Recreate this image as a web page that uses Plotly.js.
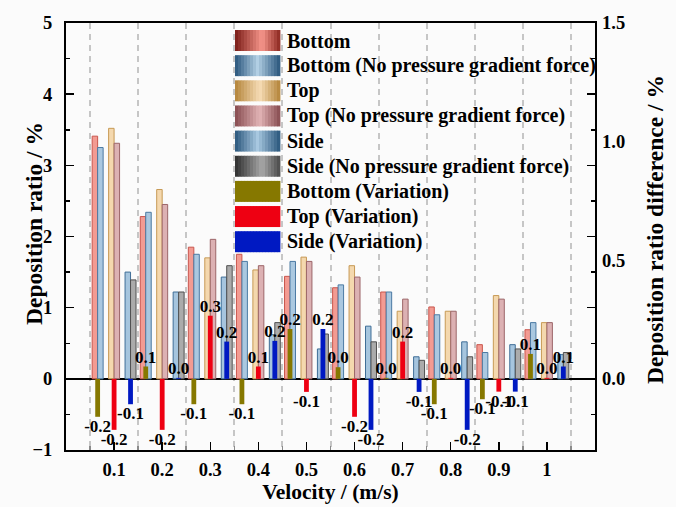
<!DOCTYPE html>
<html>
<head>
<meta charset="utf-8">
<script src="https://cdn.plot.ly/plotly-3.0.1.min.js"></script>
<style>html,body{margin:0;padding:0;background:#fbfbfb;}</style>
</head>
<body>
<div id="chart" style="width:676px;height:507px;"></div>
<script>
// Flow velocity categories (m/s)
const categories = ['0.1', '0.2', '0.3', '0.4', '0.5', '0.6', '0.7', '0.8', '0.9', '1'];

// Deposition ratio (%) on each wall, with and without the pressure gradient force
const bottom        = [3.41, 2.28, 1.85, 1.75, 1.44, 1.28, 1.22, 1.01, 0.48, 0.69];
const bottomNoPGF   = [3.25, 2.34, 1.75, 1.65, 1.65, 1.32, 1.22, 0.90, 0.37, 0.79];
const topWall       = [3.52, 2.66, 1.70, 1.53, 1.71, 1.59, 0.95, 0.95, 1.17, 0.79];
const topWallNoPGF  = [3.31, 2.45, 1.96, 1.59, 1.65, 1.43, 1.12, 0.95, 1.12, 0.79];
const side          = [1.50, 1.22, 1.43, 0.62, 0.42, 0.74, 0.31, 0.52, 0.48, 0.34];
const sideNoPGF     = [1.39, 1.22, 1.59, 0.79, 0.63, 0.52, 0.26, 0.31, 0.42, 0.37];

// Deposition ratio difference (%) caused by the pressure gradient force
const bottomVar = [-0.16, 0.052, -0.107, -0.107, 0.21, 0.049, 0.004, -0.107, -0.086, 0.105];
const topVar    = [-0.215, -0.215, 0.266, 0.052, -0.055, -0.16, 0.157, 0.004, -0.054, 0.004];
const sideVar   = [-0.107, 0.004, 0.157, 0.16, 0.21, -0.215, -0.055, -0.215, -0.054, 0.052];

const seriesNames = [
  'Bottom', 'Bottom (No pressure gradient force)', 'Top', 'Top (No pressure gradient force)',
  'Side', 'Side (No pressure gradient force)', 'Bottom (Variation)', 'Top (Variation)', 'Side (Variation)'
];

const FONT = 'Liberation Serif, Times New Roman, serif';
const xIndex = categories.map((_, i) => i);
const boundaries = categories.map((_, i) => i - 0.5).concat([categories.length - 0.5]);

// bar styling: fill + darker edge to give a shaded look
const BAR_W = 0.114, VAR_W = 0.1;
const ratioSeries = [
  {name: seriesNames[0], y: bottom,       offset: -0.456, fill: '#f39b92', edge: '#c9564d'},
  {name: seriesNames[1], y: bottomNoPGF,  offset: -0.342, fill: '#aac8e0', edge: '#4b7aa3'},
  {name: seriesNames[2], y: topWall,      offset: -0.114, fill: '#f4d8ae', edge: '#c79a55'},
  {name: seriesNames[3], y: topWallNoPGF, offset:  0.000, fill: '#dcb1b3', edge: '#9c6669'},
  {name: seriesNames[4], y: side,         offset:  0.228, fill: '#a6c5de', edge: '#3f6e97'},
  {name: seriesNames[5], y: sideNoPGF,    offset:  0.342, fill: '#ababab', edge: '#505050'}
];
const varSeries = [
  {name: seriesNames[6], y: bottomVar, offset: -0.342 - VAR_W / 2, color: '#867800'},
  {name: seriesNames[7], y: topVar,    offset: -VAR_W / 2,         color: '#ee0012'},
  {name: seriesNames[8], y: sideVar,   offset:  0.342 - VAR_W / 2, color: '#0019c2'}
];

const traces = [];
ratioSeries.forEach(s => traces.push({
  type: 'bar', name: s.name, x: xIndex, y: s.y,
  offset: s.offset, width: BAR_W,
  marker: {color: s.fill, line: {color: s.edge, width: 1}},
  showlegend: false, hoverinfo: 'skip'
}));
varSeries.forEach(s => traces.push({
  type: 'bar', name: s.name, x: xIndex, y: s.y, yaxis: 'y2',
  offset: s.offset, width: VAR_W,
  marker: {color: s.color, line: {width: 0}},
  texttemplate: '%{y:.1f}', textposition: 'outside', constraintext: 'none', cliponaxis: false,
  textfont: {family: FONT, size: 17, color: '#000', weight: 'bold'},
  showlegend: false, hoverinfo: 'skip'
}));

// ---- hand-built legend with shaded swatches ----
const PLOT = {l: 66, r: 595, t: 23, b: 450};
const px2x = p => (p - PLOT.l) / (PLOT.r - PLOT.l);
const py2y = p => (PLOT.b - p) / (PLOT.b - PLOT.t);
const hex = h => [1, 3, 5].map(i => parseInt(h.substr(i, 2), 16));
const mix = (a, b, t) => a.map((v, i) => Math.round(v + (b[i] - v) * t));
const swatchGradients = [
  {stops: ['#7a1c16', '#f7968c', '#8c2820'], peak: 0.6},
  {stops: ['#2a567c', '#b2cfe4', '#2a567c'], peak: 0.5},
  {stops: ['#b4853a', '#f6dcb6', '#b4853a'], peak: 0.55},
  {stops: ['#874c50', '#e2b4b6', '#874c50'], peak: 0.55},
  {stops: ['#2a567c', '#a8c8e0', '#2a567c'], peak: 0.5},
  {stops: ['#2e2e2e', '#a8a8a8', '#4a4a4a'], peak: 0.6},
  {stops: ['#867800', '#867800', '#867800'], peak: 0.5},
  {stops: ['#ee0012', '#ee0012', '#ee0012'], peak: 0.5},
  {stops: ['#0019c2', '#0019c2', '#0019c2'], peak: 0.5}
];
const shapes = [];
const annotations = [];
const SW_X0 = 235, SW_X1 = 280, ROW0 = 40.5, ROW_H = 25.15, SW_H = 21, STRIPES = 15;
seriesNames.forEach((name, k) => {
  const cy = ROW0 + k * ROW_H;
  const g = swatchGradients[k];
  const c = g.stops.map(hex);
  for (let j = 0; j < STRIPES; j++) {
    const t = (j + 0.5) / STRIPES;
    const col = t < g.peak ? mix(c[0], c[1], t / g.peak) : mix(c[1], c[2], (t - g.peak) / (1 - g.peak));
    const sx0 = SW_X0 + (SW_X1 - SW_X0) * j / STRIPES;
    const sx1 = SW_X0 + (SW_X1 - SW_X0) * (j + 1) / STRIPES + 0.4;
    shapes.push({type: 'rect', xref: 'paper', yref: 'paper',
      x0: px2x(sx0), x1: px2x(sx1), y0: py2y(cy - SW_H / 2), y1: py2y(cy + SW_H / 2),
      fillcolor: 'rgb(' + col.join(',') + ')', line: {width: 0}});
  }
  annotations.push({xref: 'paper', yref: 'paper', x: px2x(285), y: py2y(cy),
    xanchor: 'left', yanchor: 'middle', showarrow: false, text: name,
    font: {family: FONT, size: 20, color: '#000', weight: 'bold'}});
});

// y-axis titles
annotations.push({xref: 'paper', yref: 'paper', x: 0, xshift: -32, y: py2y(224), textangle: -90,
  xanchor: 'center', yanchor: 'middle', showarrow: false, text: 'Deposition ratio / %',
  font: {family: FONT, size: 23.5, color: '#000', weight: 'bold'}});
annotations.push({xref: 'paper', yref: 'paper', x: 1, xshift: 60, y: py2y(230), textangle: -90,
  xanchor: 'center', yanchor: 'middle', showarrow: false, text: 'Deposition ratio difference / %',
  font: {family: FONT, size: 23.5, color: '#000', weight: 'bold'}});

const tickFont = {family: FONT, size: 18.5, color: '#000', weight: 'bold'};
const layout = {
  width: 676, height: 507,
  margin: {l: 66, r: 81, t: 23, b: 57},
  paper_bgcolor: '#fbfbfb', plot_bgcolor: '#fbfbfb',
  barmode: 'overlay',
  showlegend: false,
  xaxis: {
    range: [-1, 10], tickmode: 'array', tickvals: xIndex, ticktext: categories,
    ticks: 'inside', ticklen: 8, tickwidth: 1.5, tickcolor: '#000',
    showline: true, linewidth: 2, linecolor: '#000', mirror: true,
    showgrid: false, zeroline: false, tickfont: tickFont, ticklabelstandoff: 2,
    minor: {tickmode: 'array', tickvals: boundaries, ticks: 'inside', ticklen: 4, tickcolor: '#8a8a8a',
            showgrid: true, griddash: '6px,5px', gridcolor: '#c6c6c6', gridwidth: 2},
    title: {text: 'Velocity / (m/s)', standoff: 4,
            font: {family: FONT, size: 21.5, color: '#000', weight: 'bold'}}
  },
  yaxis: {
    range: [-1, 5], tick0: 0, dtick: 1,
    ticks: 'inside', ticklen: 8, tickwidth: 1.5, tickcolor: '#000',
    showline: true, linewidth: 2, linecolor: '#000', mirror: 'ticks',
    showgrid: false, zeroline: true, zerolinecolor: '#000', zerolinewidth: 2,
    tickfont: tickFont, ticklabelstandoff: 8,
    minor: {dtick: 0.5, ticks: 'inside', ticklen: 4, tickcolor: '#000', showgrid: false}
  },
  yaxis2: {
    overlaying: 'y', side: 'right', range: [-0.3, 1.5],
    tickmode: 'array', tickvals: [0, 0.5, 1.0, 1.5], tickformat: '.1f',
    ticks: '', showline: false, showgrid: false, zeroline: false,
    tickfont: tickFont, ticklabelstandoff: 6
  },
  shapes: shapes,
  annotations: annotations
};

Plotly.newPlot('chart', traces, layout, {displayModeBar: false, staticPlot: true});
</script>
</body>
</html>
